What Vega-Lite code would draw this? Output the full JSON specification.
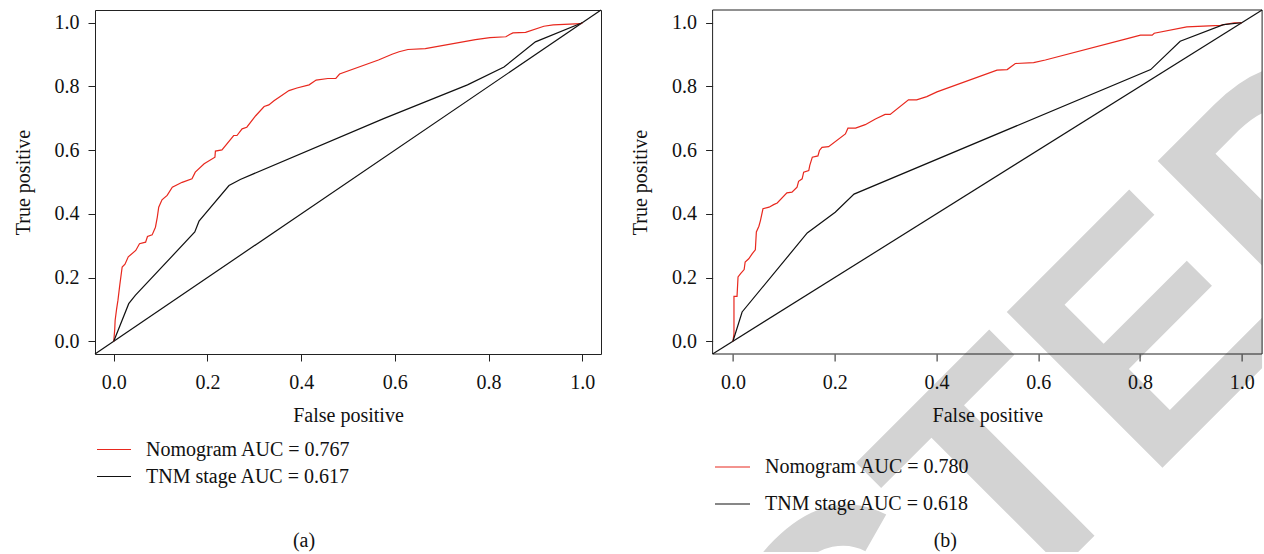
{
  "$schema": "https://vega.github.io/schema/vega-lite/v6.json",
  "padding": {"left": 12, "top": 7, "right": 0, "bottom": 0},
  "background": "white",
  "bounds": "flush",
  "spacing": 111.6,
  "datasets": {
    "diag": [{"fpr": -0.04, "tpr": -0.04}, {"fpr": 1.04, "tpr": 1.04}],
    "limits": [{"x0": -0.04, "x1": 1.04, "y0": -0.04, "y1": 1.04}],
    "stamp": [{"label": "RETRACTED", "fpr": 0.061, "tpr": -1.648}],
    "rocA": [
      {"series": "Nomogram AUC = 0.767", "fpr": 0, "tpr": 0},
      {"series": "Nomogram AUC = 0.767", "fpr": 0.002, "tpr": 0.035},
      {"series": "Nomogram AUC = 0.767", "fpr": 0.003, "tpr": 0.066},
      {"series": "Nomogram AUC = 0.767", "fpr": 0.006, "tpr": 0.1},
      {"series": "Nomogram AUC = 0.767", "fpr": 0.009, "tpr": 0.129},
      {"series": "Nomogram AUC = 0.767", "fpr": 0.013, "tpr": 0.178},
      {"series": "Nomogram AUC = 0.767", "fpr": 0.018, "tpr": 0.233},
      {"series": "Nomogram AUC = 0.767", "fpr": 0.024, "tpr": 0.242},
      {"series": "Nomogram AUC = 0.767", "fpr": 0.031, "tpr": 0.265},
      {"series": "Nomogram AUC = 0.767", "fpr": 0.047, "tpr": 0.285},
      {"series": "Nomogram AUC = 0.767", "fpr": 0.055, "tpr": 0.306},
      {"series": "Nomogram AUC = 0.767", "fpr": 0.068, "tpr": 0.311},
      {"series": "Nomogram AUC = 0.767", "fpr": 0.072, "tpr": 0.329},
      {"series": "Nomogram AUC = 0.767", "fpr": 0.082, "tpr": 0.334},
      {"series": "Nomogram AUC = 0.767", "fpr": 0.089, "tpr": 0.358},
      {"series": "Nomogram AUC = 0.767", "fpr": 0.093, "tpr": 0.39},
      {"series": "Nomogram AUC = 0.767", "fpr": 0.096, "tpr": 0.421},
      {"series": "Nomogram AUC = 0.767", "fpr": 0.103, "tpr": 0.444},
      {"series": "Nomogram AUC = 0.767", "fpr": 0.114, "tpr": 0.458},
      {"series": "Nomogram AUC = 0.767", "fpr": 0.125, "tpr": 0.484},
      {"series": "Nomogram AUC = 0.767", "fpr": 0.146, "tpr": 0.499},
      {"series": "Nomogram AUC = 0.767", "fpr": 0.167, "tpr": 0.51},
      {"series": "Nomogram AUC = 0.767", "fpr": 0.174, "tpr": 0.531},
      {"series": "Nomogram AUC = 0.767", "fpr": 0.193, "tpr": 0.557},
      {"series": "Nomogram AUC = 0.767", "fpr": 0.216, "tpr": 0.578},
      {"series": "Nomogram AUC = 0.767", "fpr": 0.217, "tpr": 0.597},
      {"series": "Nomogram AUC = 0.767", "fpr": 0.231, "tpr": 0.601},
      {"series": "Nomogram AUC = 0.767", "fpr": 0.256, "tpr": 0.646},
      {"series": "Nomogram AUC = 0.767", "fpr": 0.263, "tpr": 0.646},
      {"series": "Nomogram AUC = 0.767", "fpr": 0.274, "tpr": 0.667},
      {"series": "Nomogram AUC = 0.767", "fpr": 0.284, "tpr": 0.672},
      {"series": "Nomogram AUC = 0.767", "fpr": 0.303, "tpr": 0.708},
      {"series": "Nomogram AUC = 0.767", "fpr": 0.321, "tpr": 0.737},
      {"series": "Nomogram AUC = 0.767", "fpr": 0.331, "tpr": 0.742},
      {"series": "Nomogram AUC = 0.767", "fpr": 0.342, "tpr": 0.755},
      {"series": "Nomogram AUC = 0.767", "fpr": 0.353, "tpr": 0.766},
      {"series": "Nomogram AUC = 0.767", "fpr": 0.374, "tpr": 0.787},
      {"series": "Nomogram AUC = 0.767", "fpr": 0.391, "tpr": 0.795},
      {"series": "Nomogram AUC = 0.767", "fpr": 0.417, "tpr": 0.805},
      {"series": "Nomogram AUC = 0.767", "fpr": 0.432, "tpr": 0.82},
      {"series": "Nomogram AUC = 0.767", "fpr": 0.457, "tpr": 0.825},
      {"series": "Nomogram AUC = 0.767", "fpr": 0.474, "tpr": 0.825},
      {"series": "Nomogram AUC = 0.767", "fpr": 0.482, "tpr": 0.839},
      {"series": "Nomogram AUC = 0.767", "fpr": 0.565, "tpr": 0.883},
      {"series": "Nomogram AUC = 0.767", "fpr": 0.594, "tpr": 0.901},
      {"series": "Nomogram AUC = 0.767", "fpr": 0.609, "tpr": 0.909},
      {"series": "Nomogram AUC = 0.767", "fpr": 0.628, "tpr": 0.916},
      {"series": "Nomogram AUC = 0.767", "fpr": 0.665, "tpr": 0.919},
      {"series": "Nomogram AUC = 0.767", "fpr": 0.772, "tpr": 0.947},
      {"series": "Nomogram AUC = 0.767", "fpr": 0.803, "tpr": 0.953},
      {"series": "Nomogram AUC = 0.767", "fpr": 0.837, "tpr": 0.956},
      {"series": "Nomogram AUC = 0.767", "fpr": 0.845, "tpr": 0.963},
      {"series": "Nomogram AUC = 0.767", "fpr": 0.852, "tpr": 0.968},
      {"series": "Nomogram AUC = 0.767", "fpr": 0.879, "tpr": 0.97},
      {"series": "Nomogram AUC = 0.767", "fpr": 0.918, "tpr": 0.989},
      {"series": "Nomogram AUC = 0.767", "fpr": 0.938, "tpr": 0.993},
      {"series": "Nomogram AUC = 0.767", "fpr": 0.997, "tpr": 0.997},
      {"series": "Nomogram AUC = 0.767", "fpr": 1, "tpr": 1},
      {"series": "TNM stage AUC = 0.617", "fpr": 0, "tpr": 0},
      {"series": "TNM stage AUC = 0.617", "fpr": 0.032, "tpr": 0.118},
      {"series": "TNM stage AUC = 0.617", "fpr": 0.046, "tpr": 0.144},
      {"series": "TNM stage AUC = 0.617", "fpr": 0.173, "tpr": 0.343},
      {"series": "TNM stage AUC = 0.617", "fpr": 0.182, "tpr": 0.377},
      {"series": "TNM stage AUC = 0.617", "fpr": 0.246, "tpr": 0.489},
      {"series": "TNM stage AUC = 0.617", "fpr": 0.27, "tpr": 0.508},
      {"series": "TNM stage AUC = 0.617", "fpr": 0.576, "tpr": 0.699},
      {"series": "TNM stage AUC = 0.617", "fpr": 0.755, "tpr": 0.805},
      {"series": "TNM stage AUC = 0.617", "fpr": 0.833, "tpr": 0.861},
      {"series": "TNM stage AUC = 0.617", "fpr": 0.9, "tpr": 0.94},
      {"series": "TNM stage AUC = 0.617", "fpr": 1, "tpr": 1}
    ],
    "rocB": [
      {"series": "Nomogram AUC = 0.780", "fpr": 0, "tpr": 0},
      {"series": "Nomogram AUC = 0.780", "fpr": 0.002, "tpr": 0.024},
      {"series": "Nomogram AUC = 0.780", "fpr": 0.002, "tpr": 0.141},
      {"series": "Nomogram AUC = 0.780", "fpr": 0.008, "tpr": 0.141},
      {"series": "Nomogram AUC = 0.780", "fpr": 0.01, "tpr": 0.202},
      {"series": "Nomogram AUC = 0.780", "fpr": 0.015, "tpr": 0.212},
      {"series": "Nomogram AUC = 0.780", "fpr": 0.022, "tpr": 0.225},
      {"series": "Nomogram AUC = 0.780", "fpr": 0.024, "tpr": 0.249},
      {"series": "Nomogram AUC = 0.780", "fpr": 0.031, "tpr": 0.259},
      {"series": "Nomogram AUC = 0.780", "fpr": 0.038, "tpr": 0.275},
      {"series": "Nomogram AUC = 0.780", "fpr": 0.044, "tpr": 0.287},
      {"series": "Nomogram AUC = 0.780", "fpr": 0.046, "tpr": 0.343},
      {"series": "Nomogram AUC = 0.780", "fpr": 0.051, "tpr": 0.361},
      {"series": "Nomogram AUC = 0.780", "fpr": 0.054, "tpr": 0.379},
      {"series": "Nomogram AUC = 0.780", "fpr": 0.059, "tpr": 0.416},
      {"series": "Nomogram AUC = 0.780", "fpr": 0.071, "tpr": 0.421},
      {"series": "Nomogram AUC = 0.780", "fpr": 0.08, "tpr": 0.429},
      {"series": "Nomogram AUC = 0.780", "fpr": 0.087, "tpr": 0.434},
      {"series": "Nomogram AUC = 0.780", "fpr": 0.106, "tpr": 0.466},
      {"series": "Nomogram AUC = 0.780", "fpr": 0.116, "tpr": 0.468},
      {"series": "Nomogram AUC = 0.780", "fpr": 0.126, "tpr": 0.484},
      {"series": "Nomogram AUC = 0.780", "fpr": 0.129, "tpr": 0.502},
      {"series": "Nomogram AUC = 0.780", "fpr": 0.136, "tpr": 0.51},
      {"series": "Nomogram AUC = 0.780", "fpr": 0.139, "tpr": 0.531},
      {"series": "Nomogram AUC = 0.780", "fpr": 0.149, "tpr": 0.536},
      {"series": "Nomogram AUC = 0.780", "fpr": 0.151, "tpr": 0.552},
      {"series": "Nomogram AUC = 0.780", "fpr": 0.156, "tpr": 0.578},
      {"series": "Nomogram AUC = 0.780", "fpr": 0.167, "tpr": 0.582},
      {"series": "Nomogram AUC = 0.780", "fpr": 0.17, "tpr": 0.599},
      {"series": "Nomogram AUC = 0.780", "fpr": 0.175, "tpr": 0.609},
      {"series": "Nomogram AUC = 0.780", "fpr": 0.188, "tpr": 0.611},
      {"series": "Nomogram AUC = 0.780", "fpr": 0.221, "tpr": 0.651},
      {"series": "Nomogram AUC = 0.780", "fpr": 0.226, "tpr": 0.669},
      {"series": "Nomogram AUC = 0.780", "fpr": 0.241, "tpr": 0.669},
      {"series": "Nomogram AUC = 0.780", "fpr": 0.26, "tpr": 0.68},
      {"series": "Nomogram AUC = 0.780", "fpr": 0.28, "tpr": 0.698},
      {"series": "Nomogram AUC = 0.780", "fpr": 0.299, "tpr": 0.712},
      {"series": "Nomogram AUC = 0.780", "fpr": 0.309, "tpr": 0.712},
      {"series": "Nomogram AUC = 0.780", "fpr": 0.345, "tpr": 0.758},
      {"series": "Nomogram AUC = 0.780", "fpr": 0.361, "tpr": 0.758},
      {"series": "Nomogram AUC = 0.780", "fpr": 0.381, "tpr": 0.768},
      {"series": "Nomogram AUC = 0.780", "fpr": 0.401, "tpr": 0.783},
      {"series": "Nomogram AUC = 0.780", "fpr": 0.519, "tpr": 0.851},
      {"series": "Nomogram AUC = 0.780", "fpr": 0.539, "tpr": 0.853},
      {"series": "Nomogram AUC = 0.780", "fpr": 0.555, "tpr": 0.872},
      {"series": "Nomogram AUC = 0.780", "fpr": 0.591, "tpr": 0.875},
      {"series": "Nomogram AUC = 0.780", "fpr": 0.614, "tpr": 0.883},
      {"series": "Nomogram AUC = 0.780", "fpr": 0.775, "tpr": 0.95},
      {"series": "Nomogram AUC = 0.780", "fpr": 0.801, "tpr": 0.961},
      {"series": "Nomogram AUC = 0.780", "fpr": 0.824, "tpr": 0.961},
      {"series": "Nomogram AUC = 0.780", "fpr": 0.828, "tpr": 0.967},
      {"series": "Nomogram AUC = 0.780", "fpr": 0.892, "tpr": 0.987},
      {"series": "Nomogram AUC = 0.780", "fpr": 0.958, "tpr": 0.992},
      {"series": "Nomogram AUC = 0.780", "fpr": 0.985, "tpr": 1},
      {"series": "Nomogram AUC = 0.780", "fpr": 1, "tpr": 1},
      {"series": "TNM stage AUC = 0.618", "fpr": 0, "tpr": 0},
      {"series": "TNM stage AUC = 0.618", "fpr": 0.018, "tpr": 0.092},
      {"series": "TNM stage AUC = 0.618", "fpr": 0.146, "tpr": 0.34},
      {"series": "TNM stage AUC = 0.618", "fpr": 0.201, "tpr": 0.405},
      {"series": "TNM stage AUC = 0.618", "fpr": 0.238, "tpr": 0.462},
      {"series": "TNM stage AUC = 0.618", "fpr": 0.821, "tpr": 0.853},
      {"series": "TNM stage AUC = 0.618", "fpr": 0.879, "tpr": 0.942},
      {"series": "TNM stage AUC = 0.618", "fpr": 0.964, "tpr": 0.994},
      {"series": "TNM stage AUC = 0.618", "fpr": 1, "tpr": 1}
    ]
  },
  "hconcat": [
    {
      "width": 506,
      "height": 344,
      "title": {"text": "(a)", "orient": "bottom", "frame": "group", "anchor": "middle", "offset": 44, "dx": -44},
      "layer": [
        {
          "data": {"name": "diag"},
          "mark": {"type": "line", "color": "#111", "strokeWidth": 1.2},
          "encoding": {
            "x": {"field": "fpr", "type": "quantitative", "scale": {"domain": [-0.04, 1.04], "nice": false, "zero": false}, "axis": {"title": "False positive", "values": [0, 0.2, 0.4, 0.6, 0.8, 1.0]}},
            "y": {"field": "tpr", "type": "quantitative", "scale": {"domain": [-0.04, 1.04], "nice": false, "zero": false}, "axis": {"title": "True positive", "values": [0, 0.2, 0.4, 0.6, 0.8, 1.0]}}
          }
        },
        {
          "data": {"name": "rocA"},
          "mark": {"type": "line", "strokeWidth": 1.2},
          "encoding": {
            "x": {"field": "fpr", "type": "quantitative", "scale": {"domain": [-0.04, 1.04], "nice": false, "zero": false}},
            "y": {"field": "tpr", "type": "quantitative", "scale": {"domain": [-0.04, 1.04], "nice": false, "zero": false}},
            "color": {
              "field": "series", "type": "nominal",
              "scale": {"domain": ["Nomogram AUC = 0.767", "TNM stage AUC = 0.617"], "range": ["#e8281e", "#111111"]},
              "legend": {"orient": "none", "legendX": 1, "legendY": 429.5, "title": null, "symbolType": "stroke", "symbolSize": 1156, "symbolStrokeWidth": 1.2, "labelOffset": 14, "clipHeight": 20, "rowPadding": 7, "padding": 0}
            },
            "order": {"value": null}
          }
        }
      ]
    },
    {
      "width": 549.5,
      "height": 542,
      "view": {"stroke": null},
      "title": {"text": "(b)", "orient": "bottom", "frame": "group", "anchor": "middle", "offset": -21, "dx": -42},
      "layer": [
        {
          "data": {"name": "stamp"},
          "mark": {"type": "text", "font": "Liberation Sans", "fontWeight": "bold", "fontSize": 320, "angle": 315, "align": "center", "baseline": "alphabetic", "color": "#d3d3d3", "clip": true},
          "encoding": {
            "x": {"field": "fpr", "type": "quantitative", "scale": {"domain": [-0.04, 1.04], "nice": false, "zero": false, "range": [0, 549.5]}, "axis": {"title": "False positive", "values": [0, 0.2, 0.4, 0.6, 0.8, 1.0], "offset": -198, "zindex": 2}},
            "y": {"field": "tpr", "type": "quantitative", "scale": {"domain": [-0.04, 1.04], "nice": false, "zero": false, "range": [344, 0]}, "axis": {"title": "True positive", "values": [0, 0.2, 0.4, 0.6, 0.8, 1.0], "zindex": 2}},
            "text": {"field": "label", "type": "nominal"}
          }
        },
        {
          "data": {"name": "limits"},
          "mark": {"type": "rect", "fill": null, "stroke": "#222", "strokeWidth": 1},
          "encoding": {
            "x": {"field": "x0", "type": "quantitative"},
            "x2": {"field": "x1"},
            "y": {"field": "y0", "type": "quantitative"},
            "y2": {"field": "y1"}
          }
        },
        {
          "data": {"name": "diag"},
          "mark": {"type": "line", "color": "#111", "strokeWidth": 1.2},
          "encoding": {
            "x": {"field": "fpr", "type": "quantitative"},
            "y": {"field": "tpr", "type": "quantitative"}
          }
        },
        {
          "data": {"name": "rocB"},
          "mark": {"type": "line", "strokeWidth": 1.2},
          "encoding": {
            "x": {"field": "fpr", "type": "quantitative"},
            "y": {"field": "tpr", "type": "quantitative"},
            "color": {
              "field": "series", "type": "nominal",
              "scale": {"domain": ["Nomogram AUC = 0.780", "TNM stage AUC = 0.618"], "range": ["#e8281e", "#111111"]},
              "legend": {"orient": "none", "legendX": 1.4, "legendY": 447, "title": null, "symbolType": "stroke", "symbolSize": 1225, "symbolStrokeWidth": 1.2, "labelOffset": 14, "clipHeight": 20, "rowPadding": 17, "padding": 0}
            },
            "order": {"value": null}
          }
        }
      ]
    }
  ],
  "resolve": {"scale": {"x": "independent", "y": "independent", "color": "independent"}, "legend": {"color": "independent"}},
  "config": {
    "font": "Liberation Serif",
    "view": {"stroke": "#222", "strokeWidth": 1},
    "axis": {
      "domain": false, "grid": false, "ticks": true, "tickColor": "#222", "tickSize": 7, "tickWidth": 1,
      "format": ".1f",
      "labelFont": "Liberation Serif", "labelFontSize": 20, "labelColor": "#111", "labelFlush": false, "labelOverlap": false,
      "titleFont": "Liberation Serif", "titleFontSize": 20, "titleFontWeight": "normal", "titleColor": "#111"
    },
    "axisX": {"labelPadding": 11, "titlePadding": 13},
    "axisY": {"labelPadding": 9, "titlePadding": 21},
    "legend": {"labelFont": "Liberation Serif", "labelFontSize": 20, "labelColor": "#111", "labelLimit": 0},
    "title": {"font": "Liberation Serif", "fontSize": 20, "fontWeight": "normal", "color": "#111"}
  }
}
